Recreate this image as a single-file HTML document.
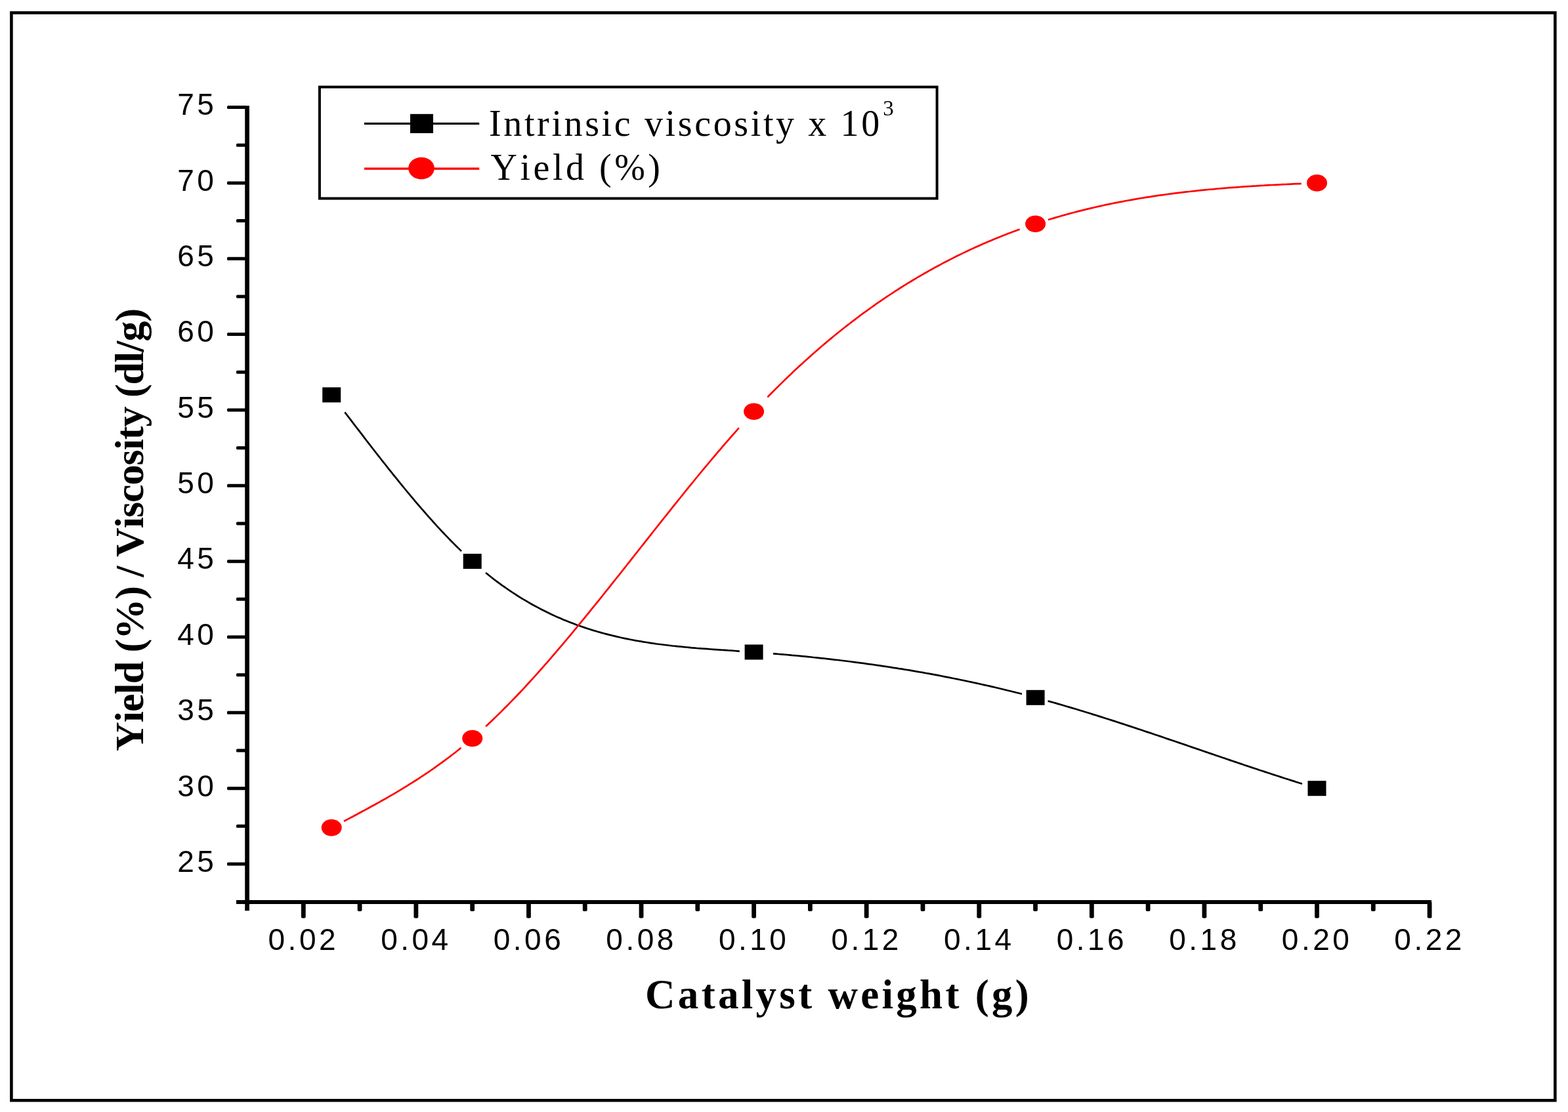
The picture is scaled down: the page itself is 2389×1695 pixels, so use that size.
<!DOCTYPE html>
<html><head><meta charset="utf-8"><title>Catalyst weight chart</title>
<style>html,body{margin:0;padding:0;background:#fff;}svg{display:block;}text{font-kerning:none;font-feature-settings:"kern" 0;}</style>
</head><body>
<svg width="2389" height="1695" viewBox="0 0 2389 1695">
<rect x="0" y="0" width="2389" height="1695" fill="#fff"/>
<rect x="17.4" y="19.45" width="2351.95" height="1657.85" fill="none" stroke="#000" stroke-width="4.6"/>
<g fill="#000">
<rect x="373.2" y="161.2" width="6.7" height="1227"/>
<rect x="360" y="1372" width="1821" height="6"/>
<rect x="346" y="1314.50" width="30" height="5" rx="1.6"/>
<rect x="346" y="1199.16" width="30" height="5" rx="1.6"/>
<rect x="346" y="1083.82" width="30" height="5" rx="1.6"/>
<rect x="346" y="968.48" width="30" height="5" rx="1.6"/>
<rect x="346" y="853.14" width="30" height="5" rx="1.6"/>
<rect x="346" y="737.80" width="30" height="5" rx="1.6"/>
<rect x="346" y="622.46" width="30" height="5" rx="1.6"/>
<rect x="346" y="507.12" width="30" height="5" rx="1.6"/>
<rect x="346" y="391.78" width="30" height="5" rx="1.6"/>
<rect x="346" y="276.44" width="30" height="5" rx="1.6"/>
<rect x="346" y="161.10" width="30" height="5" rx="1.6"/>
<rect x="360" y="1256.83" width="16" height="5" rx="1.6"/>
<rect x="360" y="1141.49" width="16" height="5" rx="1.6"/>
<rect x="360" y="1026.15" width="16" height="5" rx="1.6"/>
<rect x="360" y="910.81" width="16" height="5" rx="1.6"/>
<rect x="360" y="795.47" width="16" height="5" rx="1.6"/>
<rect x="360" y="680.13" width="16" height="5" rx="1.6"/>
<rect x="360" y="564.79" width="16" height="5" rx="1.6"/>
<rect x="360" y="449.45" width="16" height="5" rx="1.6"/>
<rect x="360" y="334.11" width="16" height="5" rx="1.6"/>
<rect x="360" y="218.77" width="16" height="5" rx="1.6"/>
<rect x="458.89" y="1374" width="6.8" height="25.6" rx="2"/>
<rect x="630.47" y="1374" width="6.8" height="25.6" rx="2"/>
<rect x="802.05" y="1374" width="6.8" height="25.6" rx="2"/>
<rect x="973.63" y="1374" width="6.8" height="25.6" rx="2"/>
<rect x="1145.21" y="1374" width="6.8" height="25.6" rx="2"/>
<rect x="1316.79" y="1374" width="6.8" height="25.6" rx="2"/>
<rect x="1488.37" y="1374" width="6.8" height="25.6" rx="2"/>
<rect x="1659.95" y="1374" width="6.8" height="25.6" rx="2"/>
<rect x="1831.53" y="1374" width="6.8" height="25.6" rx="2"/>
<rect x="2003.11" y="1374" width="6.8" height="25.6" rx="2"/>
<rect x="2174.69" y="1374" width="6.8" height="25.6" rx="2"/>
<rect x="544.68" y="1374" width="6.8" height="15" rx="2"/>
<rect x="716.26" y="1374" width="6.8" height="15" rx="2"/>
<rect x="887.84" y="1374" width="6.8" height="15" rx="2"/>
<rect x="1059.42" y="1374" width="6.8" height="15" rx="2"/>
<rect x="1231.00" y="1374" width="6.8" height="15" rx="2"/>
<rect x="1402.58" y="1374" width="6.8" height="15" rx="2"/>
<rect x="1574.16" y="1374" width="6.8" height="15" rx="2"/>
<rect x="1745.74" y="1374" width="6.8" height="15" rx="2"/>
<rect x="1917.32" y="1374" width="6.8" height="15" rx="2"/>
<rect x="2088.90" y="1374" width="6.8" height="15" rx="2"/>
</g>
<g font-family="Liberation Sans, Arial, sans-serif" font-size="46" fill="#000" letter-spacing="4.5">
<text x="330.3" y="1328.8" text-anchor="end">25</text>
<text x="330.3" y="1213.5" text-anchor="end">30</text>
<text x="330.3" y="1098.1" text-anchor="end">35</text>
<text x="330.3" y="982.8" text-anchor="end">40</text>
<text x="330.3" y="867.4" text-anchor="end">45</text>
<text x="330.3" y="752.1" text-anchor="end">50</text>
<text x="330.3" y="636.8" text-anchor="end">55</text>
<text x="330.3" y="521.4" text-anchor="end">60</text>
<text x="330.3" y="406.1" text-anchor="end">65</text>
<text x="330.3" y="290.7" text-anchor="end">70</text>
<text x="330.3" y="175.4" text-anchor="end">75</text>
<text x="462.3" y="1447.5" text-anchor="middle">0.02</text>
<text x="633.9" y="1447.5" text-anchor="middle">0.04</text>
<text x="805.5" y="1447.5" text-anchor="middle">0.06</text>
<text x="977.1" y="1447.5" text-anchor="middle">0.08</text>
<text x="1148.7" y="1447.5" text-anchor="middle">0.10</text>
<text x="1320.2" y="1447.5" text-anchor="middle">0.12</text>
<text x="1491.8" y="1447.5" text-anchor="middle">0.14</text>
<text x="1663.4" y="1447.5" text-anchor="middle">0.16</text>
<text x="1835.0" y="1447.5" text-anchor="middle">0.18</text>
<text x="2006.6" y="1447.5" text-anchor="middle">0.20</text>
<text x="2178.1" y="1447.5" text-anchor="middle">0.22</text>
</g>
<text x="1277.6" y="1537" text-anchor="middle" font-family="Liberation Serif, Times New Roman, serif" font-weight="bold" font-size="63" letter-spacing="4.3">Catalyst weight (g)</text>
<text transform="translate(218,808) rotate(-90)" x="0" y="0" text-anchor="middle" font-family="Liberation Serif, Times New Roman, serif" font-weight="bold" font-size="62" letter-spacing="-1.02">Yield (%) / Viscosity (dl/g)</text>
<rect x="486.9" y="132.6" width="940.7" height="169.9" fill="none" stroke="#000" stroke-width="4"/>
<rect x="555" y="186.8" width="175.2" height="3.2" fill="#000"/>
<rect x="625" y="173.8" width="35" height="29.2" fill="#000"/>
<rect x="555" y="255.4" width="175.2" height="3.4" fill="#f00"/>
<ellipse cx="642" cy="256.5" rx="19.8" ry="16.8" fill="#f00"/>
<g font-family="Liberation Serif, Times New Roman, serif" font-size="56" fill="#000" letter-spacing="3.63">
<text x="745" y="207.2">Intrinsic viscosity x 10<tspan font-size="33" dx="1.5" dy="-31.5">3</tspan></text>
<text x="747.6" y="274.3" letter-spacing="4.5">Yield (%)</text>
</g>
<path d="M525.4 628.4 L529.5 633.8 L533.7 639.2 L537.8 644.6 L541.9 650.0 L546.1 655.4 L550.2 660.7 L554.3 666.1 L558.4 671.5 L562.6 676.8 L566.7 682.2 L570.8 687.5 L575.0 692.8 L579.1 698.0 L583.2 703.3 L587.4 708.5 L591.5 713.8 L595.6 718.9 L599.7 724.1 L603.9 729.2 L608.0 734.3 L612.1 739.4 L616.3 744.5 L620.4 749.5 L624.5 754.4 L628.7 759.4 L632.8 764.3 L636.9 769.1 L641.0 773.9 L645.2 778.7 L649.3 783.4 L653.4 788.1 L657.6 792.7 L661.7 797.3 L665.8 801.9 L670.0 806.3 L674.1 810.8 L678.2 815.1 L682.3 819.4 L686.5 823.7 L690.6 827.9 L694.7 832.0 L698.9 836.1 L703.0 840.1 M740.0 873.0 L744.1 876.3 L748.1 879.5 L752.2 882.7 L756.3 885.8 L760.4 888.8 L764.4 891.8 L768.5 894.7 L772.6 897.5 L776.7 900.3 L780.7 903.0 L784.8 905.7 L788.9 908.3 L792.9 910.8 L797.0 913.3 L801.1 915.7 L805.2 918.1 L809.2 920.5 L813.3 922.7 L817.4 924.9 L821.5 927.1 L825.5 929.2 L829.6 931.3 L833.7 933.3 L837.7 935.3 L841.8 937.2 L845.9 939.1 L850.0 940.9 L854.0 942.6 L858.1 944.4 L862.2 946.1 L866.3 947.7 L870.3 949.3 L874.4 950.8 L878.5 952.4 L882.5 953.8 L886.6 955.2 L890.7 956.6 L894.8 958.0 L898.8 959.3 L902.9 960.6 L907.0 961.8 L911.1 963.0 L915.1 964.1 L919.2 965.3 L923.3 966.4 L927.3 967.4 L931.4 968.4 L935.5 969.4 L939.6 970.4 L943.6 971.3 L947.7 972.2 L951.8 973.1 L955.8 973.9 L959.9 974.7 L964.0 975.5 L968.1 976.3 L972.1 977.0 L976.2 977.7 L980.3 978.4 L984.4 979.0 L988.4 979.7 L992.5 980.3 L996.6 980.9 L1000.6 981.5 L1004.7 982.0 L1008.8 982.5 L1012.9 983.0 L1016.9 983.5 L1021.0 984.0 L1025.1 984.5 L1029.2 984.9 L1033.2 985.3 L1037.3 985.7 L1041.4 986.1 L1045.4 986.5 L1049.5 986.9 L1053.6 987.3 L1057.7 987.6 L1061.7 988.0 L1065.8 988.3 L1069.9 988.6 L1074.0 988.9 L1078.0 989.2 L1082.1 989.5 L1086.2 989.8 L1090.2 990.1 L1094.3 990.4 L1098.4 990.7 L1102.5 990.9 L1106.5 991.2 L1110.6 991.5 L1114.7 991.7 L1118.8 992.0 L1122.8 992.3 L1126.9 992.6 M1178.0 996.3 L1182.1 996.6 L1186.2 997.0 L1190.2 997.3 L1194.3 997.7 L1198.4 998.0 L1202.5 998.4 L1206.5 998.8 L1210.6 999.1 L1214.7 999.5 L1218.8 999.9 L1222.8 1000.3 L1226.9 1000.7 L1231.0 1001.1 L1235.1 1001.5 L1239.1 1002.0 L1243.2 1002.4 L1247.3 1002.8 L1251.4 1003.3 L1255.4 1003.7 L1259.5 1004.2 L1263.6 1004.6 L1267.7 1005.1 L1271.7 1005.6 L1275.8 1006.0 L1279.9 1006.5 L1284.0 1007.0 L1288.0 1007.5 L1292.1 1008.0 L1296.2 1008.5 L1300.3 1009.1 L1304.3 1009.6 L1308.4 1010.1 L1312.5 1010.7 L1316.6 1011.2 L1320.6 1011.8 L1324.7 1012.4 L1328.8 1012.9 L1332.9 1013.5 L1336.9 1014.1 L1341.0 1014.7 L1345.1 1015.3 L1349.2 1015.9 L1353.2 1016.5 L1357.3 1017.1 L1361.4 1017.8 L1365.5 1018.4 L1369.5 1019.1 L1373.6 1019.7 L1377.7 1020.4 L1381.8 1021.0 L1385.8 1021.7 L1389.9 1022.4 L1394.0 1023.1 L1398.1 1023.8 L1402.1 1024.5 L1406.2 1025.2 L1410.3 1026.0 L1414.4 1026.7 L1418.4 1027.4 L1422.5 1028.2 L1426.6 1028.9 L1430.7 1029.7 L1434.7 1030.5 L1438.8 1031.3 L1442.9 1032.1 L1447.0 1032.9 L1451.0 1033.7 L1455.1 1034.5 L1459.2 1035.3 L1463.3 1036.2 L1467.3 1037.0 L1471.4 1037.9 L1475.5 1038.7 L1479.6 1039.6 L1483.6 1040.5 L1487.7 1041.4 L1491.8 1042.3 L1495.9 1043.2 L1499.9 1044.1 L1504.0 1045.0 L1508.1 1045.9 L1512.2 1046.9 L1516.2 1047.8 L1520.3 1048.8 L1524.4 1049.7 L1528.5 1050.7 L1532.5 1051.7 L1536.6 1052.7 L1540.7 1053.7 L1544.8 1054.7 L1548.8 1055.8 L1552.9 1056.8 L1557.0 1057.8 M1596.5 1068.5 L1600.6 1069.6 L1604.7 1070.8 L1608.7 1071.9 L1612.8 1073.1 L1616.9 1074.3 L1621.0 1075.5 L1625.1 1076.7 L1629.1 1077.9 L1633.2 1079.1 L1637.3 1080.3 L1641.4 1081.5 L1645.4 1082.8 L1649.5 1084.0 L1653.6 1085.3 L1657.7 1086.5 L1661.8 1087.8 L1665.8 1089.1 L1669.9 1090.3 L1674.0 1091.6 L1678.1 1092.9 L1682.2 1094.2 L1686.2 1095.5 L1690.3 1096.8 L1694.4 1098.1 L1698.5 1099.4 L1702.6 1100.7 L1706.6 1102.1 L1710.7 1103.4 L1714.8 1104.7 L1718.9 1106.1 L1722.9 1107.4 L1727.0 1108.8 L1731.1 1110.1 L1735.2 1111.5 L1739.3 1112.8 L1743.3 1114.2 L1747.4 1115.6 L1751.5 1116.9 L1755.6 1118.3 L1759.7 1119.7 L1763.7 1121.0 L1767.8 1122.4 L1771.9 1123.8 L1776.0 1125.2 L1780.1 1126.6 L1784.1 1128.0 L1788.2 1129.3 L1792.3 1130.7 L1796.4 1132.1 L1800.4 1133.5 L1804.5 1134.9 L1808.6 1136.3 L1812.7 1137.7 L1816.8 1139.1 L1820.8 1140.5 L1824.9 1141.9 L1829.0 1143.3 L1833.1 1144.7 L1837.2 1146.1 L1841.2 1147.5 L1845.3 1148.9 L1849.4 1150.3 L1853.5 1151.7 L1857.6 1153.0 L1861.6 1154.4 L1865.7 1155.8 L1869.8 1157.2 L1873.9 1158.6 L1877.9 1160.0 L1882.0 1161.4 L1886.1 1162.7 L1890.2 1164.1 L1894.3 1165.5 L1898.3 1166.9 L1902.4 1168.2 L1906.5 1169.6 L1910.6 1171.0 L1914.7 1172.3 L1918.7 1173.7 L1922.8 1175.0 L1926.9 1176.4 L1931.0 1177.7 L1935.1 1179.0 L1939.1 1180.4 L1943.2 1181.7 L1947.3 1183.0 L1951.4 1184.4 L1955.4 1185.7 L1959.5 1187.0 L1963.6 1188.3 L1967.7 1189.6 L1971.8 1190.9 L1975.8 1192.2 L1979.9 1193.5 L1984.0 1194.7" fill="none" stroke="#000" stroke-width="2.7"/>
<path d="M524.0 1251.8 L528.2 1249.6 L532.3 1247.4 L536.5 1245.2 L540.6 1243.0 L544.8 1240.8 L548.9 1238.5 L553.1 1236.3 L557.2 1234.1 L561.4 1231.8 L565.5 1229.5 L569.7 1227.3 L573.8 1225.0 L578.0 1222.6 L582.1 1220.3 L586.3 1218.0 L590.4 1215.6 L594.6 1213.2 L598.7 1210.8 L602.9 1208.3 L607.0 1205.9 L611.2 1203.4 L615.3 1200.9 L619.5 1198.3 L623.6 1195.7 L627.8 1193.1 L631.9 1190.5 L636.1 1187.8 L640.2 1185.1 L644.4 1182.4 L648.5 1179.6 L652.7 1176.8 L656.8 1174.0 L661.0 1171.1 L665.1 1168.2 L669.3 1165.2 L673.4 1162.2 L677.6 1159.1 L681.7 1156.0 L685.9 1152.9 L690.0 1149.7 L694.2 1146.5 L698.3 1143.2 L702.5 1139.9 M740.1 1107.3 L744.2 1103.5 L748.2 1099.7 L752.3 1095.8 L756.3 1091.9 L760.4 1087.9 L764.5 1083.9 L768.5 1079.8 L772.6 1075.7 L776.6 1071.6 L780.7 1067.4 L784.8 1063.2 L788.8 1059.0 L792.9 1054.7 L797.0 1050.3 L801.0 1046.0 L805.1 1041.5 L809.1 1037.1 L813.2 1032.6 L817.3 1028.1 L821.3 1023.6 L825.4 1019.0 L829.4 1014.4 L833.5 1009.8 L837.6 1005.1 L841.6 1000.4 L845.7 995.7 L849.7 990.9 L853.8 986.2 L857.9 981.4 L861.9 976.5 L866.0 971.7 L870.1 966.8 L874.1 961.9 L878.2 957.0 L882.2 952.1 L886.3 947.2 L890.4 942.2 L894.4 937.2 L898.5 932.2 L902.5 927.2 L906.6 922.2 L910.7 917.1 L914.7 912.1 L918.8 907.0 L922.8 901.9 L926.9 896.8 L931.0 891.7 L935.0 886.6 L939.1 881.5 L943.2 876.4 L947.2 871.2 L951.3 866.1 L955.3 861.0 L959.4 855.8 L963.5 850.7 L967.5 845.5 L971.6 840.4 L975.6 835.2 L979.7 830.1 L983.8 824.9 L987.8 819.8 L991.9 814.6 L995.9 809.5 L1000.0 804.4 L1004.1 799.2 L1008.1 794.1 L1012.2 789.0 L1016.3 783.9 L1020.3 778.8 L1024.4 773.7 L1028.4 768.6 L1032.5 763.6 L1036.6 758.5 L1040.6 753.5 L1044.7 748.4 L1048.7 743.4 L1052.8 738.4 L1056.9 733.5 L1060.9 728.5 L1065.0 723.5 L1069.0 718.6 L1073.1 713.7 L1077.2 708.8 L1081.2 704.0 L1085.3 699.1 L1089.4 694.3 L1093.4 689.5 L1097.5 684.8 L1101.5 680.0 L1105.6 675.3 L1109.7 670.6 L1113.7 666.0 L1117.8 661.3 L1121.8 656.8 L1125.9 652.2 M1169.4 605.4 L1173.4 601.3 L1177.5 597.2 L1181.5 593.1 L1185.6 589.1 L1189.6 585.1 L1193.7 581.1 L1197.7 577.2 L1201.8 573.3 L1205.8 569.5 L1209.8 565.6 L1213.9 561.8 L1217.9 558.1 L1222.0 554.4 L1226.0 550.7 L1230.1 547.0 L1234.1 543.4 L1238.2 539.8 L1242.2 536.3 L1246.2 532.7 L1250.3 529.2 L1254.3 525.8 L1258.4 522.4 L1262.4 519.0 L1266.5 515.6 L1270.5 512.3 L1274.5 509.0 L1278.6 505.7 L1282.6 502.5 L1286.7 499.3 L1290.7 496.1 L1294.8 493.0 L1298.8 489.9 L1302.9 486.8 L1306.9 483.7 L1310.9 480.7 L1315.0 477.7 L1319.0 474.8 L1323.1 471.8 L1327.1 469.0 L1331.2 466.1 L1335.2 463.2 L1339.3 460.4 L1343.3 457.7 L1347.3 454.9 L1351.4 452.2 L1355.4 449.5 L1359.5 446.8 L1363.5 444.2 L1367.6 441.6 L1371.6 439.0 L1375.7 436.4 L1379.7 433.9 L1383.7 431.4 L1387.8 429.0 L1391.8 426.5 L1395.9 424.1 L1399.9 421.7 L1404.0 419.4 L1408.0 417.0 L1412.1 414.7 L1416.1 412.4 L1420.1 410.2 L1424.2 407.9 L1428.2 405.7 L1432.3 403.6 L1436.3 401.4 L1440.4 399.3 L1444.4 397.2 L1448.5 395.1 L1452.5 393.1 L1456.5 391.0 L1460.6 389.0 L1464.6 387.1 L1468.7 385.1 L1472.7 383.2 L1476.8 381.3 L1480.8 379.4 L1484.8 377.6 L1488.9 375.7 L1492.9 373.9 L1497.0 372.1 L1501.0 370.4 L1505.1 368.6 L1509.1 366.9 L1513.2 365.2 L1517.2 363.6 L1521.2 361.9 L1525.3 360.3 L1529.3 358.7 L1533.4 357.1 L1537.4 355.5 L1541.5 354.0 L1545.5 352.5 L1549.6 351.0 L1553.6 349.5 M1597.0 335.0 L1601.1 333.8 L1605.1 332.6 L1609.2 331.4 L1613.2 330.2 L1617.3 329.0 L1621.4 327.9 L1625.4 326.7 L1629.5 325.6 L1633.5 324.5 L1637.6 323.5 L1641.7 322.4 L1645.7 321.4 L1649.8 320.4 L1653.8 319.4 L1657.9 318.4 L1662.0 317.4 L1666.0 316.5 L1670.1 315.5 L1674.1 314.6 L1678.2 313.7 L1682.3 312.8 L1686.3 311.9 L1690.4 311.1 L1694.4 310.3 L1698.5 309.4 L1702.6 308.6 L1706.6 307.8 L1710.7 307.1 L1714.7 306.3 L1718.8 305.5 L1722.9 304.8 L1726.9 304.1 L1731.0 303.4 L1735.0 302.7 L1739.1 302.0 L1743.2 301.4 L1747.2 300.7 L1751.3 300.1 L1755.3 299.4 L1759.4 298.8 L1763.5 298.2 L1767.5 297.6 L1771.6 297.1 L1775.6 296.5 L1779.7 296.0 L1783.8 295.4 L1787.8 294.9 L1791.9 294.4 L1795.9 293.9 L1800.0 293.4 L1804.1 292.9 L1808.1 292.4 L1812.2 292.0 L1816.2 291.5 L1820.3 291.1 L1824.4 290.6 L1828.4 290.2 L1832.5 289.8 L1836.5 289.4 L1840.6 289.0 L1844.7 288.6 L1848.7 288.3 L1852.8 287.9 L1856.8 287.5 L1860.9 287.2 L1865.0 286.8 L1869.0 286.5 L1873.1 286.2 L1877.1 285.9 L1881.2 285.6 L1885.3 285.3 L1889.3 285.0 L1893.4 284.7 L1897.4 284.4 L1901.5 284.1 L1905.6 283.9 L1909.6 283.6 L1913.7 283.4 L1917.7 283.1 L1921.8 282.9 L1925.9 282.7 L1929.9 282.4 L1934.0 282.2 L1938.0 282.0 L1942.1 281.8 L1946.2 281.6 L1950.2 281.4 L1954.3 281.2 L1958.3 281.0 L1962.4 280.8 L1966.5 280.6 L1970.5 280.4 L1974.6 280.2 L1978.6 280.1 L1982.7 279.9" fill="none" stroke="#f00" stroke-width="2.7"/>
<rect x="491.2" y="590.4" width="28" height="23" fill="#000"/>
<rect x="705.7" y="844.1" width="28" height="23" fill="#000"/>
<rect x="1134.6" y="982.5" width="28" height="23" fill="#000"/>
<rect x="1563.6" y="1051.8" width="28" height="23" fill="#000"/>
<rect x="1992.5" y="1190.2" width="28" height="23" fill="#000"/>
<ellipse cx="505.2" cy="1261.6" rx="15.5" ry="12.8" fill="#f00"/>
<ellipse cx="719.7" cy="1125.5" rx="15.5" ry="12.8" fill="#f00"/>
<ellipse cx="1148.6" cy="627.3" rx="15.5" ry="12.8" fill="#f00"/>
<ellipse cx="1577.6" cy="341.2" rx="15.5" ry="12.8" fill="#f00"/>
<ellipse cx="2006.5" cy="278.9" rx="15.5" ry="12.8" fill="#f00"/>
</svg>
</body></html>
